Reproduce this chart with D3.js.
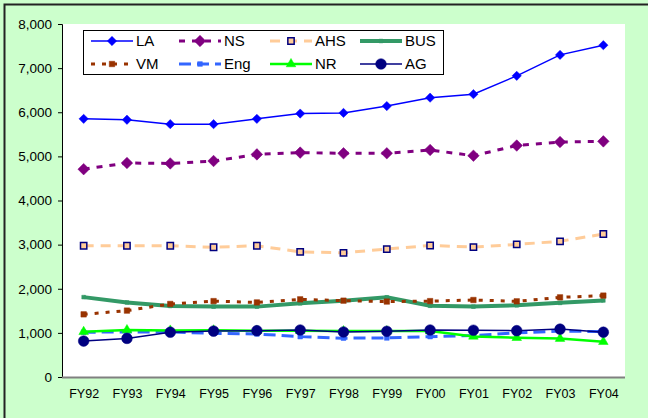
<!DOCTYPE html>
<html>
<head>
<meta charset="utf-8">
<script src="https://cdn.jsdelivr.net/npm/d3@7"></script>
<style>
  html, body { margin: 0; padding: 0; background: #ccffcc; }
  svg { display: block; font-family: Arial, "Liberation Sans", sans-serif; }
</style>
</head>
<body>
<div id="chart"></div>
<script>
// categories + series values
const years = ["FY92","FY93","FY94","FY95","FY96","FY97","FY98","FY99","FY00","FY01","FY02","FY03","FY04"];
const yTicks = [0,1000,2000,3000,4000,5000,6000,7000,8000];

const LA  = [5850,5830,5730,5730,5850,5970,5985,6140,6330,6410,6825,7300,7520];
const NS  = [4710,4850,4840,4895,5045,5085,5070,5070,5145,5015,5245,5325,5340];
const AHS = [2975,2975,2975,2940,2975,2835,2815,2900,2980,2945,3005,3075,3240];
const BUS = [1810,1690,1610,1595,1595,1670,1730,1805,1615,1595,1625,1680,1735];
const VM  = [1420,1505,1655,1720,1690,1760,1730,1710,1720,1745,1715,1805,1845];
const Eng = [1015,1020,1020,990,975,915,880,885,915,940,1000,1040,1030];
const NR  = [1025,1065,1055,1060,1050,1050,1040,1040,1040,920,890,870,800];
const AG  = [815,875,1015,1040,1050,1065,1020,1035,1065,1060,1050,1085,1015];

const series = [
  {name:"LA",  values:LA,  color:"#0000ff", width:1.5, dash:null,  marker:"diamond", msize:55, mfill:"#0000ff", mstroke:"#0000ff"},
  {name:"NS",  values:NS,  color:"#800080", width:3,   dash:"6,7", marker:"diamond", msize:85, mfill:"#800080", mstroke:"#800080"},
  {name:"AHS", values:AHS, color:"#ffcc99", width:3,   dash:"10,7",marker:"square",  msize:40, mfill:"#ffcc99", mstroke:"#000080"},
  {name:"BUS", values:BUS, color:"#339966", width:4,   dash:null,  marker:"square",  msize:14, mfill:"#339966", mstroke:"#339966"},
  {name:"VM",  values:VM,  color:"#993300", width:3,   dash:"4,7", marker:"square",  msize:30, mfill:"#993300", mstroke:"#993300"},
  {name:"Eng", values:Eng, color:"#3366ff", width:3,   dash:"12,6",marker:"square",  msize:22, mfill:"#3366ff", mstroke:"#3366ff"},
  {name:"NR",  values:NR,  color:"#00ff00", width:2.5, dash:null,  marker:"triangle",msize:40, mfill:"#00ff00", mstroke:"#00ff00"},
  {name:"AG",  values:AG,  color:"#000080", width:1.5, dash:null,  marker:"circle",  msize:90, mfill:"#000080", mstroke:"#000080"}
];

const W = 648, H = 418;
const plot = {left:62, right:625, top:24, bottom:377};

const svg = d3.select("#chart").append("svg")
  .attr("width", W).attr("height", H);

// background + frame
svg.append("rect").attr("width", W).attr("height", H).attr("fill", "#ccffcc");
svg.append("rect")
  .attr("x", 4.5).attr("y", 4.5)
  .attr("width", W + 20).attr("height", H + 20)
  .attr("fill", "none").attr("stroke", "#222").attr("stroke-width", 2);

// plot area
svg.append("rect")
  .attr("x", plot.left).attr("y", plot.top)
  .attr("width", plot.right - plot.left).attr("height", plot.bottom - plot.top)
  .attr("fill", "#ffffff");

const x = d3.scalePoint().domain(years).range([plot.left, plot.right]).padding(0.5);
const y = d3.scaleLinear().domain([0, 8000]).range([plot.bottom, plot.top]);

// y axis
const yAxis = svg.append("g")
  .attr("transform", `translate(${plot.left},0)`)
  .call(d3.axisLeft(y).tickValues(yTicks).tickSize(4).tickPadding(6).tickFormat(d3.format(",")));
yAxis.select(".domain").attr("stroke", "#000");
yAxis.selectAll(".tick line").attr("stroke", "#000");
yAxis.selectAll("text").attr("font-size", 13.5).attr("fill", "#000").style("font-family", "Arial, 'Liberation Sans', sans-serif");

// x axis
const xAxis = svg.append("g")
  .attr("transform", `translate(0,${plot.bottom})`)
  .call(d3.axisBottom(x).tickSize(0).tickPadding(12));
xAxis.select(".domain").remove();
xAxis.selectAll("text").attr("font-size", 12.5).attr("fill", "#000").style("font-family", "Arial, 'Liberation Sans', sans-serif");
svg.append("line")
  .attr("x1", plot.left).attr("x2", plot.right)
  .attr("y1", plot.bottom + 0.5).attr("y2", plot.bottom + 0.5)
  .attr("stroke", "#808080").attr("stroke-width", 2);

const symbolType = {
  diamond: d3.symbolDiamond2,
  square: d3.symbolSquare,
  triangle: d3.symbolTriangle,
  circle: d3.symbolCircle
};

function drawMarker(g, s) {
  return g.append("path")
    .attr("d", d3.symbol().type(symbolType[s.marker]).size(s.msize)())
    .attr("fill", s.mfill)
    .attr("stroke", s.mstroke)
    .attr("stroke-width", s.marker === "square" && s.name === "AHS" ? 1.5 : 0.5);
}

const line = d3.line()
  .x((d, i) => x(years[i]))
  .y(d => y(d));

// series
series.forEach(s => {
  const g = svg.append("g");
  g.append("path")
    .datum(s.values)
    .attr("d", line)
    .attr("fill", "none")
    .attr("stroke", s.color)
    .attr("stroke-width", s.width)
    .attr("stroke-dasharray", s.dash);
  s.values.forEach((v, i) => {
    const m = g.append("g").attr("transform", `translate(${x(years[i])},${y(v)})`);
    drawMarker(m, s);
  });
});

// legend
const legend = svg.append("g");
legend.append("rect")
  .attr("x", 83.5).attr("y", 30.5)
  .attr("width", 360).attr("height", 44)
  .attr("fill", "#fff").attr("stroke", "#000").attr("stroke-width", 1);

const colX = [91, 179, 270, 360];
const rowY = [41, 64];
series.forEach((s, i) => {
  const cx = colX[i % 4], cy = rowY[Math.floor(i / 4)];
  const item = legend.append("g").attr("transform", `translate(${cx},${cy})`);
  item.append("line")
    .attr("x1", 0).attr("x2", 42).attr("y1", 0).attr("y2", 0)
    .attr("stroke", s.color)
    .attr("stroke-width", s.width)
    .attr("stroke-dasharray", s.dash);
  drawMarker(item.append("g").attr("transform", "translate(21,0)"), s);
  item.append("text")
    .attr("x", 45).attr("y", 0).attr("dy", "0.36em")
    .attr("font-size", 15).attr("fill", "#000")
    .text(s.name);
});
</script>
</body>
</html>
